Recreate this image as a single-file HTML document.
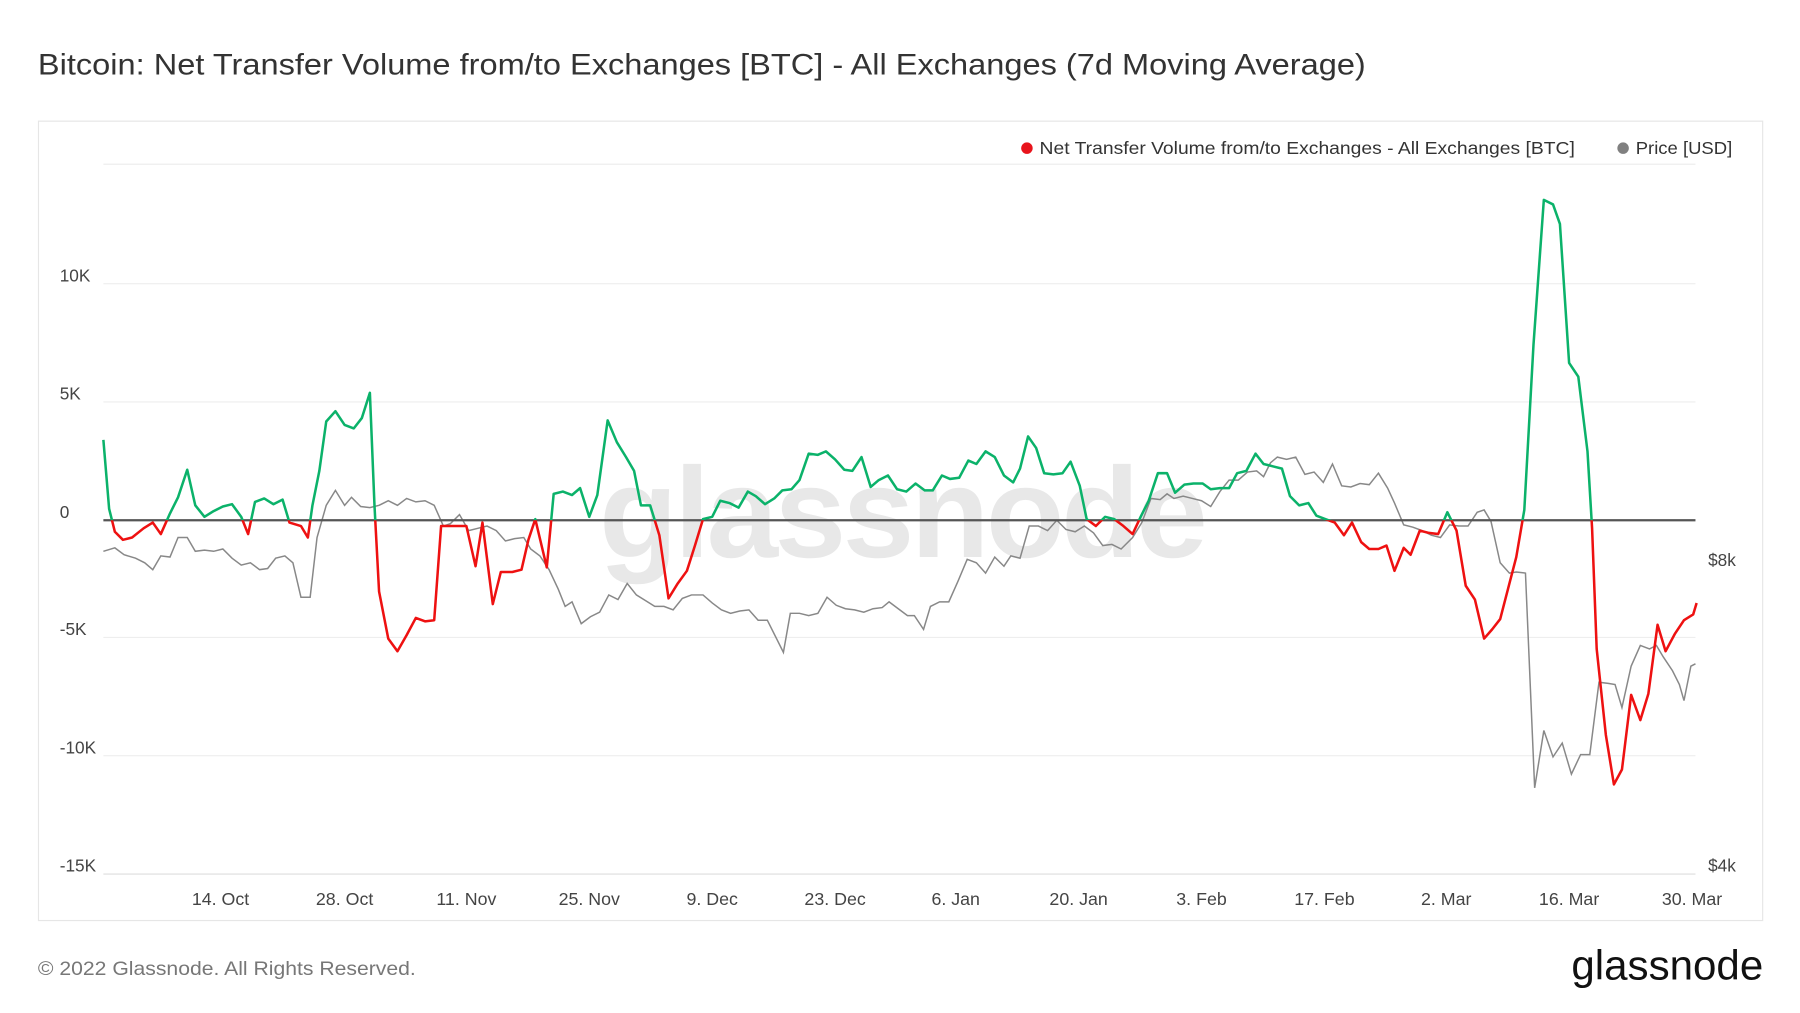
<!DOCTYPE html>
<html><head><meta charset="utf-8"><style>
html,body{margin:0;padding:0;background:#fff;}
svg{display:block;font-family:"Liberation Sans",sans-serif;}
</style></head><body>
<svg width="1800" height="1013" viewBox="0 0 1567 882" preserveAspectRatio="none" xmlns="http://www.w3.org/2000/svg">
<rect width="1567" height="882" fill="#fff"/>
<text x="33" y="65" font-size="26" fill="#333" textLength="1156" lengthAdjust="spacingAndGlyphs">Bitcoin: Net Transfer Volume from/to Exchanges [BTC] - All Exchanges (7d Moving Average)</text>
<rect x="33.5" y="105.5" width="1501" height="696" fill="none" stroke="#e6e6e6"/>
<g stroke="#eeeeee" stroke-width="1">
<line x1="90" y1="143" x2="1476" y2="143"/>
<line x1="90" y1="247" x2="1476" y2="247"/>
<line x1="90" y1="350" x2="1476" y2="350"/>
<line x1="90" y1="555" x2="1476" y2="555"/>
<line x1="90" y1="658" x2="1476" y2="658"/>
<line x1="90" y1="761" x2="1476" y2="761" stroke="#ddd"/>
</g>
<g font-size="15" fill="#444">
<text x="52" y="245">10K</text><text x="52" y="348">5K</text><text x="52" y="451">0</text>
<text x="52" y="553">-5K</text><text x="52" y="656">-10K</text><text x="52" y="759">-15K</text>
<text x="1487" y="493">$8k</text><text x="1487" y="759">$4k</text>
</g>
<g font-size="15.5" fill="#444" text-anchor="middle">
<text x="192" y="788">14. Oct</text><text x="300" y="788">28. Oct</text><text x="406" y="788">11. Nov</text><text x="513" y="788">25. Nov</text><text x="620" y="788">9. Dec</text><text x="727" y="788">23. Dec</text><text x="832" y="788">6. Jan</text><text x="939" y="788">20. Jan</text><text x="1046" y="788">3. Feb</text><text x="1153" y="788">17. Feb</text><text x="1259" y="788">2. Mar</text><text x="1366" y="788">16. Mar</text><text x="1473" y="788">30. Mar</text>
</g>
<text x="785" y="485" font-size="112" fill="#e8e8e8" text-anchor="middle" font-weight="bold" letter-spacing="-3">glassnode</text>
<circle cx="894" cy="129" r="5" fill="#e8141c"/>
<text x="905" y="134" font-size="15.5" fill="#333" textLength="466" lengthAdjust="spacingAndGlyphs">Net Transfer Volume from/to Exchanges - All Exchanges [BTC]</text>
<circle cx="1413" cy="129" r="5" fill="#808080"/>
<text x="1424" y="134" font-size="15.5" fill="#333" textLength="84" lengthAdjust="spacingAndGlyphs">Price [USD]</text>
<polyline fill="none" stroke="#888" stroke-width="1.3" points="90,480 100,477 108,483 118,486 126,490 133,496 140,484 148,485 155,468 163,468 170,480 178,479 186,480 194,478 202,486 210,492 218,490 226,496 233,495 240,486 248,484 255,490 262,520 270,520 276,468 284,440 292,427 300,440 306,433 314,441 322,442 330,440 338,436 346,440 354,434 362,437 370,436 378,440 386,458 392,456 400,448 408,462 416,460 424,458 432,462 440,471 448,469 456,468 462,478 470,484 478,496 486,513 492,528 498,524 506,543 514,537 522,533 530,518 538,522 546,508 554,518 562,523 570,528 578,528 586,531 594,521 602,518 612,518 620,525 628,531 636,534 644,532 652,531 660,540 668,540 676,556 682,568 688,534 696,534 704,536 712,534 720,520 728,527 736,530 744,531 752,533 760,530 768,529 774,524 782,530 790,536 796,536 804,548 810,528 818,524 826,524 834,506 842,487 850,490 858,499 866,485 874,493 880,484 888,486 896,458 904,458 912,462 920,453 928,461 936,463 944,458 952,464 960,475 968,474 976,478 986,468 994,455 1002,434 1010,435 1016,430 1022,434 1030,432 1038,434 1046,436 1054,441 1062,428 1070,418 1078,418 1086,411 1094,410 1100,415 1106,403 1112,398 1120,400 1128,398 1136,413 1144,411 1152,420 1160,404 1168,423 1176,424 1184,421 1192,422 1200,412 1208,425 1214,438 1222,457 1230,459 1238,462 1246,466 1254,468 1262,457 1270,458 1278,458 1286,446 1292,444 1298,454 1306,490 1314,499 1320,498 1328,499 1336,686 1344,636 1352,659 1360,647 1368,674 1376,657 1384,657 1392,594 1400,595 1406,596 1412,616 1420,580 1428,562 1436,565 1442,562 1448,572 1456,584 1462,596 1466,610 1472,580 1476,578"/>
<line x1="90" y1="453" x2="1476" y2="453" stroke="#555" stroke-width="2"/>
<defs>
<clipPath id="up"><rect x="0" y="0" width="1567" height="453"/></clipPath>
<clipPath id="dn"><rect x="0" y="453" width="1567" height="429"/></clipPath>
<polyline id="nf" fill="none" stroke-width="2.2" stroke-linejoin="round" points="90,383 95,443 100,463 107,470 115,468 125,460 133,455 140,465 148,447 155,433 163,409 170,440 178,450 186,445 194,441 202,439 210,450 216,465 222,437 230,434 238,439 246,435 252,455 262,458 268,468 272,440 278,410 284,367 292,358 300,370 308,373 315,364 322,342 326,440 330,515 338,556 346,567 354,553 362,538 370,541 378,540 384,458 392,458 400,458 406,458 414,493 420,455 429,526 436,498 446,498 454,496 460,470 466,452 476,494 482,430 490,428 498,431 505,425 513,450 520,431 529,366 537,385 545,398 552,410 558,440 566,440 574,466 582,521 590,508 598,497 605,475 612,452 620,450 627,436 635,438 643,442 651,428 658,432 666,439 674,434 681,427 689,426 696,418 704,395 712,396 719,393 727,400 735,409 742,410 750,398 758,424 765,418 773,414 781,426 789,428 797,421 805,427 812,427 820,414 827,417 835,416 843,401 850,404 858,393 866,398 874,414 882,420 888,408 895,380 902,390 909,412 917,413 925,412 932,402 940,423 946,452 954,458 962,450 970,452 978,458 986,465 993,450 1000,436 1008,412 1016,412 1023,429 1031,422 1039,421 1047,421 1054,426 1062,425 1070,425 1077,412 1085,410 1093,395 1100,404 1108,406 1116,408 1123,432 1131,440 1139,438 1146,449 1154,452 1162,455 1170,466 1177,455 1185,472 1192,478 1200,478 1207,475 1214,497 1222,477 1228,483 1236,462 1244,464 1252,465 1260,446 1268,462 1276,510 1284,522 1292,556 1299,548 1306,539 1313,512 1320,485 1327,444 1335,300 1344,174 1352,178 1358,195 1366,316 1374,328 1382,393 1386,460 1390,565 1398,640 1405,683 1412,670 1420,605 1428,627 1435,604 1443,544 1450,567 1458,552 1466,540 1474,535 1477,525"/>
</defs>
<use href="#nf" stroke="#0bb26a" clip-path="url(#up)"/>
<use href="#nf" stroke="#ee1111" clip-path="url(#dn)"/>
<text x="33" y="849" font-size="17" fill="#777" textLength="329" lengthAdjust="spacingAndGlyphs">© 2022 Glassnode. All Rights Reserved.</text>
<text x="1535" y="853" font-size="36" fill="#111" text-anchor="end" textLength="167" lengthAdjust="spacingAndGlyphs">glassnode</text>
</svg>
</body></html>
